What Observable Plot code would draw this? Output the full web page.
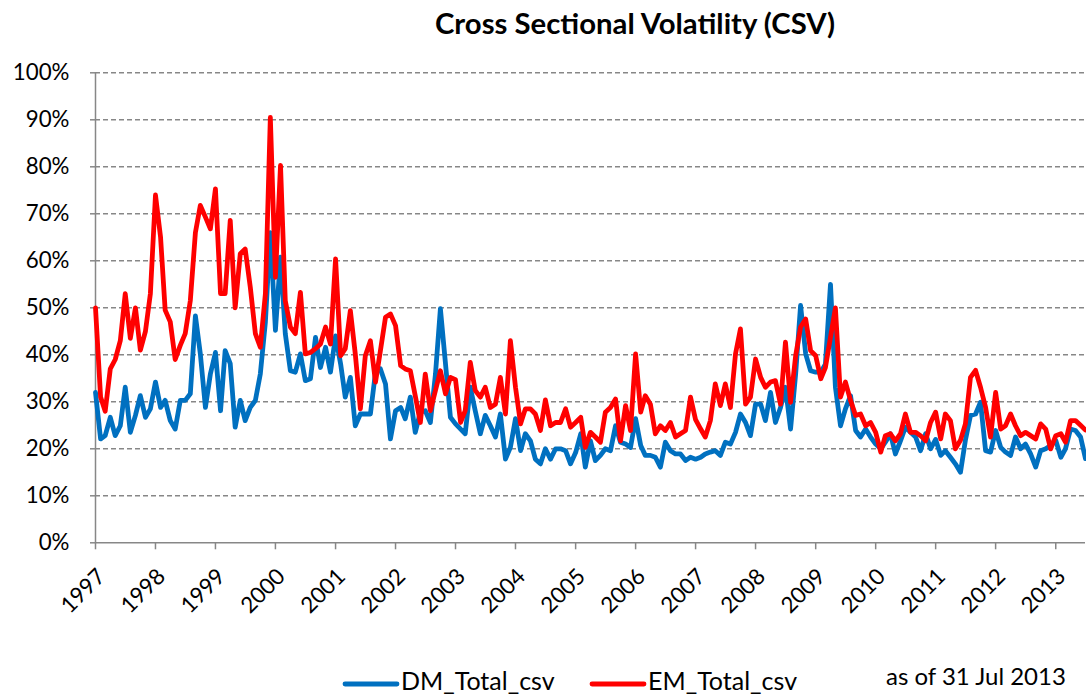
<!DOCTYPE html>
<html>
<head>
<meta charset="utf-8">
<script src="https://cdn.jsdelivr.net/npm/d3@7"></script>
<script src="https://cdn.jsdelivr.net/npm/@observablehq/plot@0.6"></script>
<style>
  body { margin: 0; background: #fff; font-family: Lato, "Open Sans", sans-serif; }
  #wrap { position: relative; width: 1086px; height: 696px; overflow: hidden; background: #fff; }
  #title { position: absolute; left: 0; top: 0; }
  #chart { position: absolute; left: 0; top: 50px; }
  #legend { position: absolute; left: 0; top: 650px; }
</style>
</head>
<body>
<div id="wrap">
  <svg id="title" width="1086" height="50">
    <text x="635" y="34" text-anchor="middle" font-family="Lato" font-weight="bold" font-size="29.3" fill="#000">Cross Sectional Volatility (CSV)</text>
  </svg>
  <div id="chart"></div>
  <svg id="legend" width="1086" height="46"></svg>
</div>
<script>
// ---- data (monthly, Jan 1997 .. Jul 2013), values in % ----
const startYear = 1997;
const seriesNames = ["DM_Total_csv", "EM_Total_csv"];
const seriesColors = ["#0070C0", "#FF0000"];
const noteText = "as of 31 Jul 2013";
const yTicks = [0, 10, 20, 30, 40, 50, 60, 70, 80, 90, 100];
const xYears = [1997, 1998, 1999, 2000, 2001, 2002, 2003, 2004, 2005, 2006, 2007, 2008, 2009, 2010, 2011, 2012, 2013];

const dm = [
  32, 22.1, 22.8, 26.7, 22.8, 24.9, 33.1, 23.5, 27.1, 31.3, 26.7, 28.5,
  34.2, 28.8, 30.3, 26, 24.2, 30.3, 30.3, 31.7, 48.3, 40.2, 28.8, 35.9,
  40.5, 28.1, 40.9, 38.1, 24.6, 30.3, 26, 28.8, 30.3, 35.9, 47, 66,
  45.2, 60.8, 44.5, 36.6, 36.3, 40.2, 34.5, 34.9, 43.7, 37.3, 41.6, 36.3,
  44, 38, 31, 35.2, 24.9, 27.4, 27.4, 27.4, 36.3, 37, 33.8, 22.1,
  28.1, 28.8, 26.4, 31, 23.5, 27.8, 28.1, 25.6, 35.9, 49.8, 38.1, 26.7,
  25.3, 24.2, 23.2, 33.1, 28.1, 23.2, 27.1, 24.9, 22.5, 27.4, 17.8, 20.3,
  26.4, 19.6, 23.2, 21.7, 17.8, 16.8, 20, 17.8, 20, 20, 19.6, 16.8,
  19.2, 23.2, 16.1, 21.7, 17.5, 18.6, 20, 19.6, 24.9, 21.4, 21, 20.3,
  26.4, 20.7, 18.6, 18.6, 18.2, 16.1, 21.4, 19.6, 18.9, 18.9, 17.5, 18.2,
  17.8, 18.2, 18.9, 19.3, 19.6, 18.6, 21.4, 21, 23.5, 27.4, 25.6, 22.8,
  29.5, 29.5, 26, 32, 25.6, 28.8, 33.1, 24.2, 35.9, 50.5, 40.2, 36.6,
  36.3, 36.3, 38, 55, 33.1, 24.9, 28.5, 31.3, 23.9, 22.5, 24.2, 22.5,
  21, 20, 21.4, 23.2, 18.9, 21.7, 24.6, 23.5, 22.5, 19.6, 23.2, 20,
  22, 18.6, 19.6, 18.2, 16.8, 15, 21.8, 27.1, 27.4, 29.9, 19.6, 19.3,
  23.9, 20.3, 19.3, 18.6, 22.5, 20, 21, 18.9, 16.1, 19.6, 20, 20.7,
  21.8, 18.2, 20, 24.2, 23.9, 22.5, 17.9
];

const em = [
  50, 31, 28, 37, 39, 43, 53, 43.5, 50, 41, 45, 53,
  74, 65, 49.5, 47, 39, 42, 44.5, 51.5, 66, 71.8, 69.3, 66.8,
  75.3, 53, 53, 68.6, 50, 61.5, 62.5, 54.4, 44.5, 41.6, 53, 90.5,
  56.5, 80.3, 51.5, 45.9, 44.5, 53.3, 40.2, 40.5, 41.3, 42.3, 45.9, 42.3,
  60.4, 39.8, 41.3, 49.4, 40.2, 28.5, 39.8, 43, 34.2, 40.9, 48, 48.7,
  46.2, 37.7, 37, 36.6, 31.3, 25.6, 35.9, 28.1, 32.4, 36.6, 31.7, 35.2,
  34.7, 25.6, 28.1, 38.4, 32.4, 31, 33.1, 28.8, 29.5, 35.2, 27.4, 43,
  33.1, 25.3, 28.5, 28.5, 27.4, 23.9, 30.4, 24.9, 25.6, 25.6, 28.5, 24.6,
  25.6, 26.7, 20.3, 23.5, 22.5, 21.4, 27.8, 28.8, 30.6, 21.7, 29.2, 23.9,
  40.2, 27.8, 31.3, 29.5, 23.2, 24.9, 23.9, 25.6, 22.5, 23.2, 23.9, 31,
  26.2, 24.2, 22.5, 26, 33.8, 29.2, 33.8, 28.8, 40.2, 45.5, 29.5, 31,
  39.1, 35.2, 33.1, 34.2, 34.5, 29.5, 42.7, 29.9, 39.8, 45.9, 47.6, 40.9,
  39.8, 34.9, 37.3, 43.7, 50, 31, 34.2, 30.3, 27.1, 27.4, 24.9, 25.6,
  23.5, 19.3, 22.8, 23.2, 21.7, 23.2, 27.4, 23.5, 23.5, 22.8, 21.7, 25.6,
  27.8, 22.1, 27.4, 26, 20, 21.8, 25.3, 35.2, 36.7, 33.1, 28.8, 22.5,
  32, 24.2, 24.9, 27.4, 24.9, 22.8, 23.5, 22.8, 22.1, 25.3, 24.2, 20,
  22.8, 23.2, 21.4, 26, 26, 25, 24
];

// ---- build table ----
const monthDate = (i) => new Date(Date.UTC(startYear, i, 1));
const rows = [];
[dm, em].forEach((arr, s) => arr.forEach((v, i) => rows.push({date: monthDate(i), value: v, series: seriesNames[s]})));
const yearDates = xYears.map(y => new Date(Date.UTC(y, 0, 1)));
const gray = "#878787";
const fontSize = 22.3;

const chart = Plot.plot({
  width: 1086,
  height: 600,
  marginTop: 22.3,
  marginBottom: 107.7,
  marginLeft: 95,
  marginRight: 1,
  style: {fontFamily: "Lato, sans-serif", fontSize: fontSize + "px", color: "#000", background: "transparent", overflow: "visible"},
  x: {type: "utc", domain: [monthDate(0), monthDate(dm.length - 1)]},
  y: {domain: [0, 100]},
  color: {domain: seriesNames, range: seriesColors},
  marks: [
    Plot.ruleY(yTicks.filter(d => d > 0), {stroke: gray, strokeWidth: 1.4, strokeDasharray: "5,3"}),
    Plot.ruleY([0], {stroke: gray, strokeWidth: 1.5}),
    Plot.ruleX([monthDate(0)], {stroke: gray, strokeWidth: 1.5}),
    Plot.axisY({ticks: yTicks, tickFormat: d => d + "%", tickSize: 5, tickPadding: 21, stroke: gray, strokeWidth: 1.5, fill: "#000", label: null}),
    Plot.axisX({ticks: yearDates, tickFormat: () => "", tickSize: 7, stroke: gray, strokeWidth: 1.5, label: null}),
    Plot.text(yearDates, {x: d => d, y: 0, text: d => String(d.getUTCFullYear()), rotate: -45, textAnchor: "end", lineAnchor: "middle", dx: 6, dy: 30, fill: "#000", fontSize: fontSize}),
    Plot.line(rows, {x: "date", y: "value", stroke: "series", z: "series", strokeWidth: 4.8, strokeLinejoin: "round", strokeLinecap: "round"})
  ]
});
document.getElementById("chart").appendChild(chart);

// ---- legend below the chart ----
const lg = d3.select("#legend");
const items = [{x: 345, name: seriesNames[0], color: seriesColors[0]}, {x: 592, name: seriesNames[1], color: seriesColors[1]}];
items.forEach(it => {
  lg.append("line").attr("x1", it.x).attr("x2", it.x + 52).attr("y1", 34).attr("y2", 34)
    .attr("stroke", it.color).attr("stroke-width", 4.8).attr("stroke-linecap", "round");
  lg.append("text").attr("x", it.x + 56).attr("y", 40).attr("font-family", "Lato").attr("font-size", 25)
    .attr("fill", "#000").text(it.name);
});
lg.append("text").attr("x", 886).attr("y", 35).attr("font-family", "Lato").attr("font-size", 24)
  .attr("fill", "#000").text(noteText);
</script>
</body>
</html>
